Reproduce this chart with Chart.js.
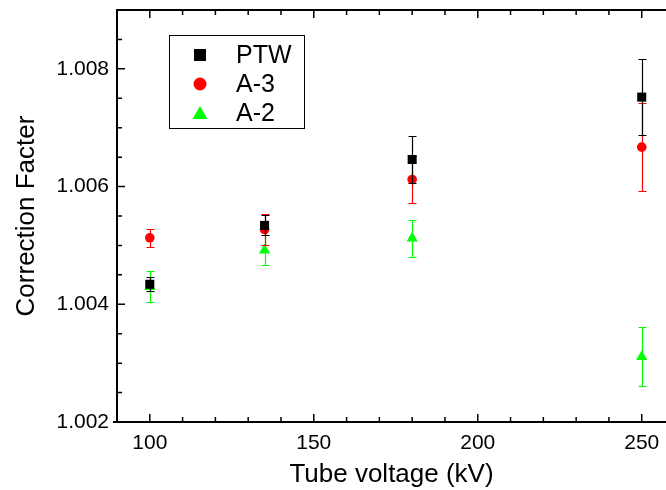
<!DOCTYPE html>
<html>
<head>
<meta charset="utf-8">
<script src="https://cdn.jsdelivr.net/npm/chart.js@4.4.0/dist/chart.umd.min.js"></script>
<style>
  html, body { margin: 0; padding: 0; background: #fff; }
  #wrap { width: 666px; height: 490px; }
</style>
</head>
<body>
<div id="wrap"><canvas id="cf"></canvas></div>
<script>
// tube voltage (kV)
const kv = [100, 135, 180, 250];

// correction factors and their error bars
const ptw = [1.00434, 1.00534, 1.00646, 1.00752];
const ptwErr = [0.00012, 0.00017, 0.0004, 0.00064];
const a3 = [1.00513, 1.00527, 1.00612, 1.00667];
const a3Err = [0.00015, 0.00027, 0.0004, 0.00075];
const a2 = [1.0043, 1.00492, 1.00512, 1.00311];
const a2Err = [0.00026, 0.00026, 0.00032, 0.0005];

const seriesNames = ['PTW', 'A-3', 'A-2'];
const colors = ['#000000', '#ff0000', '#00ff00'];

const FONT = '"Liberation Sans", Arial, sans-serif';

function pts(ys) {
    return kv.map((x, i) => ({ x: x, y: ys[i] }));
}

// error bars, drawn before each dataset's markers
const errorBars = {
    id: 'errorBars',
    beforeDatasetDraw(chart, args) {
        const ds = chart.data.datasets[args.index];
        const xs = chart.scales.x, ys = chart.scales.y;
        const ctx = chart.ctx;
        ctx.save();
        ctx.globalAlpha = 1;
        ctx.strokeStyle = colors[args.index];
        ctx.lineWidth = 1.2;
        ds.data.forEach((p, i) => {
            const e = ds.errors[i];
            const px = Math.round(xs.getPixelForValue(p.x)) + 0.5;
            const top = Math.round(ys.getPixelForValue(p.y + e)) + 0.5;
            const bot = Math.round(ys.getPixelForValue(p.y - e)) + 0.5;
            ctx.beginPath();
            ctx.moveTo(px, top); ctx.lineTo(px, bot);
            ctx.moveTo(px - 4, top); ctx.lineTo(px + 4, top);
            ctx.moveTo(px - 4, bot); ctx.lineTo(px + 4, bot);
            ctx.stroke();
        });
        ctx.restore();
    }
};

// frame with inward ticks (left, bottom, top)
const frame = {
    id: 'frame',
    afterDraw(chart) {
        const { ctx, chartArea: a } = chart;
        const xs = chart.scales.x, ys = chart.scales.y;
        ctx.save();
        ctx.strokeStyle = '#000';
        ctx.lineWidth = 2;
        ctx.beginPath();
        ctx.moveTo(a.left - 4, a.bottom); ctx.lineTo(a.right, a.bottom);
        ctx.moveTo(a.left, a.bottom); ctx.lineTo(a.left, a.top);
        ctx.lineTo(a.right, a.top);
        ctx.stroke();
        ctx.lineWidth = 1.5;
        ctx.beginPath();
        ys.ticks.forEach(t => {
            const y = ys.getPixelForValue(t.value);
            const len = t.label ? 8 : 5;
            ctx.moveTo(a.left, y); ctx.lineTo(a.left + len, y);
        });
        xs.ticks.forEach(t => {
            const x = xs.getPixelForValue(t.value);
            const len = t.label ? 8 : 5;
            ctx.moveTo(x, a.bottom); ctx.lineTo(x, a.bottom - len);
            ctx.moveTo(x, a.top); ctx.lineTo(x, a.top + len);
        });
        ctx.stroke();
        ctx.restore();
    }
};

// boxed legend inside the plot
const boxLegend = {
    id: 'boxLegend',
    afterDraw(chart) {
        const ctx = chart.ctx;
        ctx.save();
        ctx.strokeStyle = '#000';
        ctx.lineWidth = 1;
        ctx.strokeRect(169.5, 35.5, 135, 93);
        ctx.font = '25px ' + FONT;
        ctx.textBaseline = 'middle';
        chart.data.datasets.forEach((ds, i) => {
            const y = 55 + i * 29;
            ctx.fillStyle = colors[i];
            ctx.beginPath();
            if (ds.pointStyle === 'rect') {
                ctx.rect(194, y - 6, 12, 12);
            } else if (ds.pointStyle === 'circle') {
                ctx.arc(200, y, 6.5, 0, Math.PI * 2);
            } else {
                ctx.moveTo(200, y - 7); ctx.lineTo(207.5, y + 6); ctx.lineTo(192.5, y + 6); ctx.closePath();
            }
            ctx.fill();
            ctx.fillStyle = '#000';
            ctx.fillText(ds.label, 236, y + 1);
        });
        ctx.restore();
    }
};

const ctx = document.getElementById('cf').getContext('2d');
new Chart(ctx, {
    type: 'scatter',
    data: {
        datasets: [
            { label: seriesNames[0], data: pts(ptw), errors: ptwErr, pointStyle: 'rect', pointRadius: 6.4,
              backgroundColor: colors[0], borderColor: colors[0], borderWidth: 0 },
            { label: seriesNames[1], data: pts(a3), errors: a3Err, pointStyle: 'circle', pointRadius: 4.8,
              backgroundColor: colors[1], borderColor: colors[1], borderWidth: 0 },
            { label: seriesNames[2], data: pts(a2), errors: a2Err, pointStyle: 'triangle', pointRadius: 6.5,
              backgroundColor: colors[2], borderColor: colors[2], borderWidth: 0 }
        ]
    },
    options: {
        responsive: true,
        maintainAspectRatio: false,
        animation: false,
        layout: { padding: { top: 10, right: 0, left: 0, bottom: 0 }, autoPadding: false },
        plugins: {
            legend: { display: false },
            tooltip: { enabled: false }
        },
        scales: {
            x: {
                type: 'linear',
                min: 90,
                max: 257.4,
                grid: { display: false, drawTicks: false },
                border: { display: false },
                ticks: {
                    stepSize: 10,
                    includeBounds: false,
                    autoSkip: false,
                    maxRotation: 0,
                    padding: 9,
                    color: '#000',
                    font: { family: FONT, size: 21 },
                    callback: v => (v % 50 === 0 ? String(v) : '')
                },
                title: {
                    display: true,
                    text: 'Tube voltage (kV)',
                    color: '#000',
                    font: { family: FONT, size: 26 },
                    padding: { top: 0, bottom: 0 }
                },
                afterFit: s => { s.height = 68; s.paddingLeft = 0; s.paddingRight = 0; }
            },
            y: {
                min: 1.002,
                max: 1.009,
                grid: { display: false, drawTicks: false },
                border: { display: false },
                ticks: {
                    stepSize: 0.0005,
                    includeBounds: false,
                    autoSkip: false,
                    padding: 8,
                    color: '#000',
                    font: { family: FONT, size: 21 },
                    callback: v => {
                        const m = Math.round(v * 10000);
                        return m % 20 === 0 ? v.toFixed(3) : '';
                    }
                },
                title: {
                    display: true,
                    text: 'Correction Facter',
                    color: '#000',
                    font: { family: FONT, size: 26 },
                    padding: { top: 11, bottom: 0 }
                },
                afterFit: s => { s.width = 117; s.paddingTop = 0; s.paddingBottom = 0; }
            }
        }
    },
    plugins: [errorBars, frame, boxLegend]
});
</script>
</body>
</html>
